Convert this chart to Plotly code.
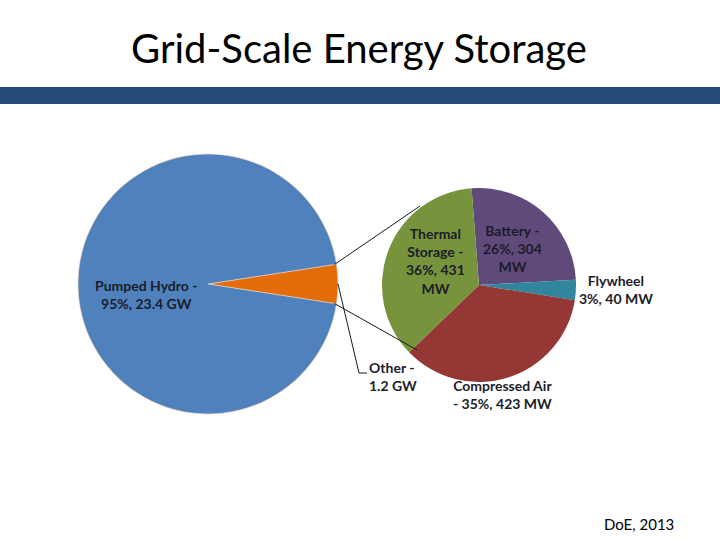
import math
import plotly.graph_objects as go

W, H = 720, 540

# Data
main_labels = ["Other", "Pumped Hydro"]
main_values_gw = [1.2, 23.4]
main_colors = ["#E46C0A", "#4F81BD"]

other_labels = ["Battery", "Flywheel", "Compressed Air", "Thermal Storage"]
other_values_mw = [304, 40, 423, 431]
other_pcts = [26, 3, 35, 36]
other_colors = ["#604A7B", "#31859C", "#953735", "#77933C"]

# pie geometry in pixels (domain box half-size; plotly draws ~2px inside it)
big_cx, big_cy, big_r = 208, 284, 130
small_cx, small_cy, small_r = 479, 285, 97


def px(x):
    return x / W


def py(y):
    return 1 - y / H


def dom(cx, cy, r):
    return dict(x=[px(cx - r), px(cx + r)], y=[py(cy + r), py(cy - r)])


# orange slice centred on 3 o'clock
other_deg = 360 * main_values_gw[0] / sum(main_values_gw)
big_rot = 90 - other_deg / 2
small_rot = -4.4

fig = go.Figure()
fig.add_trace(go.Pie(
    labels=main_labels, values=main_values_gw, sort=False,
    direction="clockwise", rotation=big_rot,
    marker=dict(colors=main_colors, line=dict(color="#f4d6bd", width=0.6)),
    textinfo="none", hoverinfo="none", showlegend=False,
    domain=dom(big_cx, big_cy, big_r),
))
fig.add_trace(go.Pie(
    labels=other_labels, values=other_values_mw, sort=False,
    direction="clockwise", rotation=small_rot,
    marker=dict(colors=other_colors, line=dict(width=0)),
    textinfo="none", hoverinfo="none", showlegend=False,
    domain=dom(small_cx, small_cy, small_r),
))


def corner(deg):
    a = math.radians(deg)
    r = big_r - 2
    return big_cx + r * math.sin(a), big_cy - r * math.cos(a)


top_x, top_y = corner(big_rot)
bot_x, bot_y = corner(big_rot + other_deg)

line = dict(color="#1a1a1a", width=1)
shapes = [
    dict(type="rect", xref="paper", yref="paper", x0=0, x1=1,
         y0=py(104), y1=py(87), fillcolor="#244A7A", line=dict(width=0), layer="above"),
    dict(type="line", xref="paper", yref="paper", x0=px(top_x), y0=py(top_y),
         x1=px(420), y1=py(206), line=line),
    dict(type="line", xref="paper", yref="paper", x0=px(bot_x), y0=py(bot_y),
         x1=px(417), y1=py(350), line=line),
    dict(type="path", xref="paper", yref="paper",
         path=f"M {px(338)},{py(284)} L {px(359)},{py(373)} L {px(367)},{py(373)}",
         line=line),
]

lab_font = dict(family="Lato", size=14, color="#1c1c2a")


def lab(x, y, text, align="center", xanchor="center"):
    return dict(x=px(x), y=py(y), xref="paper", yref="paper", text=text,
                showarrow=False, font=lab_font, align=align, xanchor=xanchor,
                yanchor="middle")


br = "<br>"
annotations = [
    lab(146, 294, f"<b>{main_labels[1]} -{br}"
        f"{round(100 * main_values_gw[1] / sum(main_values_gw))}%, {main_values_gw[1]} GW</b>"),
    lab(436, 261, f"<b>Thermal{br}Storage -{br}{other_pcts[3]}%, {other_values_mw[3]}{br}MW</b>"),
    lab(512, 248, f"<b>{other_labels[0]} -{br}{other_pcts[0]}%, {other_values_mw[0]}{br}MW</b>"),
    lab(616, 289, f"<b>{other_labels[1]}{br}{other_pcts[1]}%, {other_values_mw[1]} MW</b>"),
    lab(502, 394, f"<b>{other_labels[2]}{br}- {other_pcts[2]}%, {other_values_mw[2]} MW</b>"),
    lab(367, 376, f"<b>{main_labels[0]} -{br}{main_values_gw[0]} GW</b>",
        align="left", xanchor="left"),
    dict(x=px(359), y=py(48), xref="paper", yref="paper", text="Grid-Scale Energy Storage",
         showarrow=False, font=dict(family="Lato", size=40, color="#000000"),
         xanchor="center", yanchor="middle"),
    dict(x=px(639), y=py(524), xref="paper", yref="paper", text="DoE, 2013",
         showarrow=False, font=dict(family="Lato", size=15, color="#000000"),
         xanchor="center", yanchor="middle"),
]

fig.update_layout(
    width=W, height=H, margin=dict(l=0, r=0, t=0, b=0),
    paper_bgcolor="white", plot_bgcolor="white",
    shapes=shapes, annotations=annotations,
)

fig.write_html("out.html", config={"displayModeBar": False},
               post_script="document.body.style.margin='0';")
